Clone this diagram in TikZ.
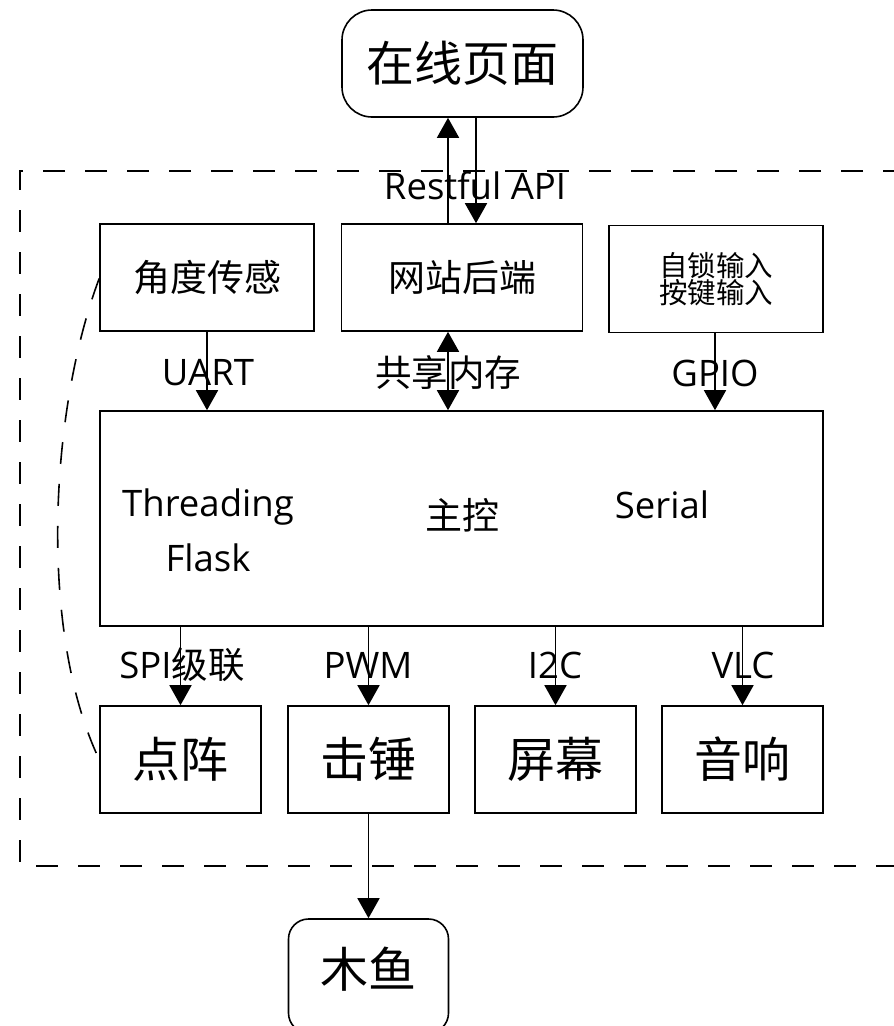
\documentclass[tikz,border=0pt]{standalone}
\usepackage{fontspec}
\setmainfont{Open Sans}
\newfontfamily\cjk{Noto Sans CJK SC}
\usetikzlibrary{arrows.meta}

\begin{document}
\begin{tikzpicture}[x=1pt,y=-1pt,line width=1.6pt,
  box/.style={draw,rectangle,inner sep=0pt},
  rbox/.style={draw,rectangle,rounded corners=30pt,inner sep=0pt},
  lbl/.style={font=\fontsize{36.5}{42}\selectfont,inner sep=0pt},
  big/.style={font=\cjk\fontsize{48}{52}\selectfont},
  mid/.style={font=\cjk\fontsize{37}{42}\selectfont},
  small/.style={font=\cjk\fontsize{28.5}{25}\selectfont,align=center},
  arr/.style={-{Triangle[width=22pt,length=20pt]}},
  darr/.style={{Triangle[width=22pt,length=20pt]}-{Triangle[width=22pt,length=20pt]}},
  dash22/.style={dash pattern=on 22pt off 20pt}
]
\useasboundingbox (0,0) rectangle (894,1026);

% system boundary
\draw[dash22] (905,171) -- (20,171) -- (20,866) -- (905,866);

% outer nodes
\node[rbox,big,minimum width=241pt,minimum height=107pt] (web) at (462.5,63.5) {在线页面};
\node[rbox,rounded corners=20pt,minimum width=160pt,minimum height=114pt] (fish) at (368.5,976) {};
\node[big] (fishtext) at (368.5,969) {木鱼};

% input row
\node[box,mid,minimum width=214pt,minimum height=107pt] (angle) at (207,277.5) {角度传感};
\node[box,mid,minimum width=241pt,minimum height=107pt] (backend) at (462,277.5) {网站后端};
\node[box,small,minimum width=214pt,minimum height=107pt] (keys) at (716,279) {自锁输入\\按键输入};

% controller
\node[box,minimum width=723pt,minimum height=215pt] (main) at (461.5,518.5) {};
\node[lbl] (thr) at (208,507) {Threading};
\node[lbl] (flask) at (208,558) {Flask};
\node[mid] (ctrl) at (462,515) {主控};
\node[lbl] (serial) at (662,505) {Serial};

% output row
\node[box,big,minimum width=161pt,minimum height=107pt] (dot) at (180.5,759.5) {点阵};
\node[box,big,minimum width=161pt,minimum height=107pt] (hammer) at (368.5,759.5) {击锤};
\node[box,big,minimum width=161pt,minimum height=107pt] (screen) at (555.5,759.5) {屏幕};
\node[box,big,minimum width=161pt,minimum height=107pt] (speaker) at (742.5,759.5) {音响};

% web link
\draw[arr] ([xshift=-14pt]backend.north) -- ([xshift=-14pt]backend.north |- web.south);
\draw[arr] ([xshift=14pt]backend.north |- web.south) -- ([xshift=14pt]backend.north);
\node[lbl] (rest) at (475,186) {Restful API};

% inputs to controller
\draw[arr] (angle.south) -- (angle.south |- main.north);
\draw[darr] ([xshift=-14pt]backend.south) -- ([xshift=-14pt]backend.south |- main.north);
\draw[arr] ([xshift=-1pt]keys.south) -- ([xshift=-1pt]keys.south |- main.north);
\node[lbl] (uart) at (208,373) {UART};
\node[lbl] (shm) at (448,373) {\cjk 共享内存};
\node[lbl] (gpio) at (715,373) {GPIO};

% controller to outputs
\draw[arr] (dot.north |- main.south) -- (dot.north);
\draw[arr] (hammer.north |- main.south) -- (hammer.north);
\draw[arr] (screen.north |- main.south) -- (screen.north);
\draw[arr] (speaker.north |- main.south) -- (speaker.north);
\node[lbl] (spi) at (182,665) {SPI{\cjk 级联}};
\node[lbl] (pwm) at (368,665) {PWM};
\node[lbl] (i2c) at (555,665) {I2C};
\node[lbl] (vlc) at (743,665) {VLC};

% hammer strikes the fish
\draw[arr] (hammer.south) -- (fish.north);

% sensor feedback
\draw[dash22] ([yshift=-1pt]angle.west) .. controls (50,410) and (38,630) .. (dot.west);
\end{tikzpicture}
\end{document}
